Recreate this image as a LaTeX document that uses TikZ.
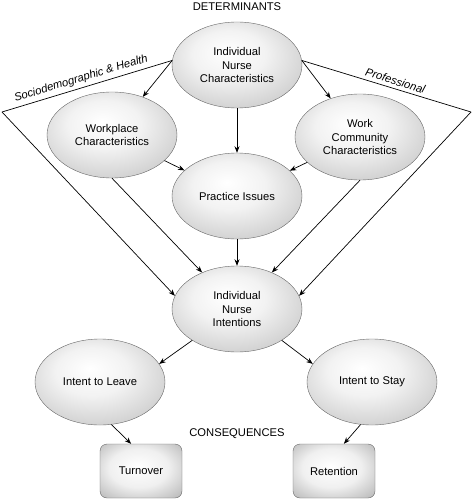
\documentclass[tikz,border=0pt]{standalone}
\usepackage{fontspec}
\setmainfont{Liberation Sans}
\usetikzlibrary{shapes.geometric,arrows.meta}
\pgfdeclareradialshading{bubble}{\pgfpoint{-4bp}{8bp}}{color(0bp)=(white); color(14bp)=(black!5); color(32bp)=(black!20); color(46bp)=(black!42); color(58bp)=(black!65)}
\pgfdeclareradialshading{bevel}{\pgfpoint{-2bp}{4bp}}{color(0bp)=(white); color(18bp)=(black!6); color(34bp)=(black!25); color(44bp)=(black!45); color(60bp)=(black!65)}
\begin{document}
\begin{tikzpicture}[x=1pt,y=-1pt,font=\fontsize{11.2}{13.4}\selectfont]
  \useasboundingbox (0,0) rectangle (473,500);

        \begin{scope}[every node/.style={ellipse, draw=black!60, shading=bubble, minimum width=130pt, minimum height=86pt, inner sep=0pt, align=center}]
          \node (inc)  at (237,65)  {Individual\\Nurse\\Characteristics};
          \node (wpc)  at (112,135) {Workplace\\Characteristics};
          \node (wcc)  at (360,137) {Work\\Community\\Characteristics};
          \node (pi)   at (237,196) {Practice Issues};
          \node (ini)  at (237,309) {Individual\\Nurse\\Intentions};
          \node (itl)  at (100,382) {Intent to Leave};
          \node (its)  at (372,382) {Intent to Stay};
        \end{scope}

        \begin{scope}[every node/.style={rectangle, rounded corners=7pt, draw=black!60, shading=bevel, minimum width=82pt, minimum height=54pt}]
          \node (to)  at (141,471) {Turnover};
          \node (re)  at (334,471) {Retention};
        \end{scope}

        \node (det) at (237,7)   {DETERMINANTS};
        \node (con) at (237,434) {CONSEQUENCES};

        \coordinate (lc) at (2,112);
        \coordinate (rc) at (471,112);

        \begin{scope}[line width=.7pt]
          \draw (lc) -- node[sloped, above, pos=.48] {\textit{Sociodemographic \& Health}} (inc.176);
          \draw (inc.4) -- node[sloped, above, pos=.54] {\textit{Professional}} (rc);

          \begin{scope}[every edge/.style={draw, -{Stealth[length=6.5pt,width=5pt]}}]
            \path (inc.176)  edge (wpc);
            \path (inc.4)    edge (wcc);
            \path (inc)      edge (pi);
            \path (wpc)      edge (pi);
            \path (wcc)      edge (pi);
            \path (lc)       edge (ini.168);
            \path (rc)       edge (ini.12);
            \path (wpc.south) edge (ini);
            \path (wcc.south) edge (ini);
            \path (pi)       edge (ini);
            \path (ini.215)  edge (itl.17);
            \path (ini.-35)  edge (its.163);
            \path (itl.-75)  edge (to.110);
            \path (its.-105) edge (re.70);
          \end{scope}
        \end{scope}

      \end{tikzpicture}
\end{document}
